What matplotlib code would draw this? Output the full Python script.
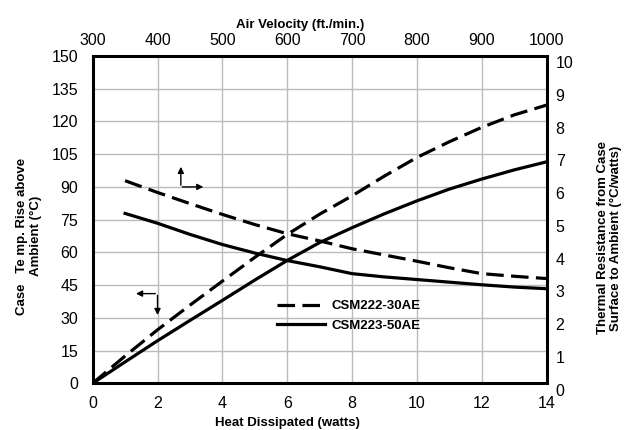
import numpy as np
import matplotlib
matplotlib.use("Agg")
import matplotlib.pyplot as plt
from matplotlib.transforms import ScaledTranslation

# Temperature rise vs heat dissipated (bottom / left axes)
heat_w = [0, 1, 2, 3, 4, 5, 6, 7, 8, 9, 10, 11, 12, 13, 14]
rise_222 = [0, 12.5, 24.5, 35.8, 46.8, 57.7, 68.2, 77.5, 85.9, 95.0, 103.5, 110.7, 117.3, 123.0, 127.5]
rise_223 = [0, 9.8, 19.5, 28.8, 38.0, 47.3, 56.3, 64.5, 71.3, 77.7, 83.6, 89.0, 93.6, 97.8, 101.5]

# Thermal resistance vs air velocity (top / right axes)
air_vel = [350, 400, 450, 500, 550, 600, 650, 700, 750, 800, 850, 900, 950, 1000]
res_222 = [6.19, 5.83, 5.49, 5.16, 4.85, 4.57, 4.35, 4.11, 3.92, 3.73, 3.53, 3.35, 3.27, 3.20]
res_223 = [5.19, 4.89, 4.55, 4.24, 3.98, 3.75, 3.56, 3.35, 3.25, 3.17, 3.09, 3.01, 2.94, 2.89]

labels = ["CSM222-30AE", "CSM223-50AE"]

plt.rcParams['font.family'] = ['Liberation Sans', 'DejaVu Sans']
narrow = ['Liberation Sans Narrow', 'Liberation Sans', 'DejaVu Sans']
bold_font = {'family': narrow, 'weight': 'bold', 'size': 9.5}

fig = plt.figure(figsize=(6.26, 4.30), dpi=100)
rect = [0.148, 0.1086, 0.7252, 0.7612]
ax = fig.add_axes(rect)
ax2 = fig.add_axes(rect, frameon=False)

dash = (5.5, 2.3)
lw = 2.3

ax.plot(heat_w, rise_222, color='black', lw=lw, dashes=dash, label=labels[0])
ax.plot(heat_w, rise_223, color='black', lw=lw, label=labels[1])
ax.set_xlim(0, 14)
ax.set_ylim(0, 150)
ax.set_xticks(np.arange(0, 15, 2))
ax.set_yticks(np.arange(0, 151, 15))
ax.grid(True, color='#bbbbbb', lw=1.0)
ax.set_axisbelow(True)
ax.tick_params(length=0, labelsize=11.5)
ax.tick_params(axis='y', pad=10.5)
ax.tick_params(axis='x', pad=9.5)
for s in ax.spines.values():
    s.set_linewidth(2.2)
ax.set_xlabel("Heat Dissipated (watts)", fontdict=bold_font)
ax.xaxis.set_label_coords(0.428, -0.102)
ax.set_ylabel("Case   Te mp. Rise above\nAmbient (°C)", fontdict=bold_font)
ax.yaxis.set_label_coords(-0.112, 0.45)

ax2.plot(air_vel, res_222, color='black', lw=lw, dashes=dash)
ax2.plot(air_vel, res_223, color='black', lw=lw)
ax2.set_xlim(300, 1000)
ax2.set_ylim(0, 10)
ax2.set_xticks(np.arange(300, 1001, 100))
ax2.set_yticks(np.arange(0, 11, 1))
ax2.xaxis.tick_top()
ax2.xaxis.set_label_position('top')
ax2.yaxis.tick_right()
ax2.yaxis.set_label_position('right')
ax2.tick_params(length=0, labelsize=11.5)
ax2.tick_params(axis='x', pad=5.5)
ax2.tick_params(axis='y', pad=6.5)
# right-hand numbers sit a little below their grid lines in the original
shift = ScaledTranslation(0, -4.5 / 72, fig.dpi_scale_trans)
for t in ax2.get_yticklabels():
    t.set_transform(t.get_transform() + shift)
ax2.set_xlabel("Air Velocity (ft./min.)", fontdict=bold_font)
ax2.xaxis.set_label_coords(0.4577, 1.0855)
ax2.set_ylabel("Thermal Resistance from Case\nSurface to Ambient (°C/watts)", fontdict=bold_font)
ax2.yaxis.set_label_coords(1.110, 0.444)

# axis pointer arrows
arr = dict(arrowstyle='-|>', color='black', lw=1.0, mutation_scale=9)
ax.annotate("", xy=(2.72, 100.5), xytext=(2.72, 89.5), arrowprops=arr)
ax.annotate("", xy=(3.5, 90.0), xytext=(2.68, 90.0), arrowprops=arr)
ax.annotate("", xy=(1.25, 41.1), xytext=(2.02, 41.1), arrowprops=arr)
ax.annotate("", xy=(2.0, 30.0), xytext=(2.0, 41.6), arrowprops=arr)

leg = ax.legend(loc='upper left', bbox_to_anchor=(0.38, 0.29), frameon=False,
                handlelength=3.6, handletextpad=0.5, labelspacing=0.55,
                prop={'family': narrow, 'weight': 'bold', 'size': 9.5})

fig.savefig("out.png", dpi=100)
